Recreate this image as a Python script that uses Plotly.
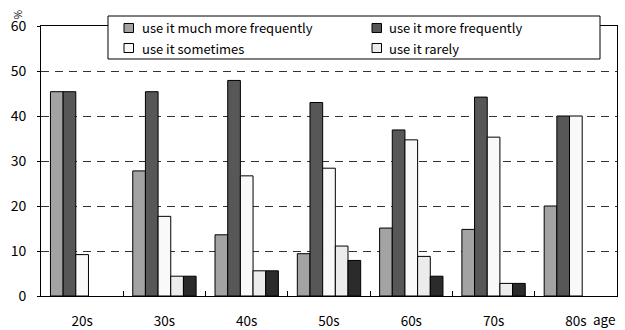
import plotly.graph_objects as go

categories = ["20s", "30s", "40s", "50s", "60s", "70s", "80s"]
much_more = [45.4, 27.8, 13.6, 9.4, 15.1, 14.8, 20.0]
more = [45.4, 45.4, 47.9, 43.0, 36.9, 44.2, 40.0]
sometimes = [9.2, 17.7, 26.7, 28.4, 34.7, 35.3, 40.0]
rarely = [0, 4.4, 5.6, 11.1, 8.8, 2.8, 0]
never = [0, 4.4, 5.6, 7.9, 4.4, 2.8, 0]
y_ticks = [0, 10, 20, 30, 40, 50, 60]

series = [
    ("use it much more frequently", much_more, "#a3a3a3", True),
    ("use it more frequently", more, "#575757", True),
    ("use it sometimes", sometimes, "#f9f9f9", True),
    ("use it rarely", rarely, "#ececec", True),
    ("do not use it", never, "#2b2b2b", False),
]

font = "Noto Sans CJK JP"
fig = go.Figure()
for name, vals, color, show in series:
    fig.add_trace(go.Bar(
        x=categories, y=vals, name=name, showlegend=False,
        marker=dict(color=color,
                    line=dict(color="black", width=[1 if v > 0 else 0 for v in vals])),
    ))

fig.update_layout(
    width=625, height=330,
    margin=dict(l=41, r=8, t=26, b=34, autoexpand=False),
    paper_bgcolor="white", plot_bgcolor="white",
    barmode="group", bargap=0.23, bargroupgap=0,
    font=dict(family=font, size=14, color="black"),
    showlegend=False,
    xaxis=dict(
        showline=True, linecolor="black", linewidth=1, mirror=True,
        ticks="inside", tickson="boundaries", ticklen=5, tickcolor="black",
        showgrid=False, ticklabelstandoff=13, automargin=False,
        tickfont=dict(size=13.5),
    ),
    yaxis=dict(
        range=[0, 60], tickvals=y_ticks,
        showline=True, linecolor="black", linewidth=1, mirror=True,
        ticks="outside", ticklen=3, tickcolor="black",
        showgrid=True, gridcolor="#333333", griddash="8px,6px", gridwidth=1,
        zeroline=False, ticklabelstandoff=8, automargin=False,
    ),
)

# Legend box (custom, two columns)
fig.add_shape(type="rect", xref="paper", yref="paper",
              x0=0.1163, x1=0.9705, y0=0.8778, y1=1.037,
              fillcolor="white", line=dict(color="black", width=1), layer="above")
legend_items = [s for s in series if s[3]]
col_sw = [0.1441, 0.5747]
col_tx = [0.1719, 0.6007]
row_y = [0.9926, 0.9185]
sw_w = 0.0165
sw_h = 0.0167
for i, (name, _, color, _) in enumerate(legend_items):
    c, r = i % 2, i // 2
    fig.add_shape(type="rect", xref="paper", yref="paper",
                  x0=col_sw[c], x1=col_sw[c] + sw_w,
                  y0=row_y[r] - sw_h, y1=row_y[r] + sw_h,
                  fillcolor=color, line=dict(color="black", width=1), layer="above")
    fig.add_annotation(text=name, xref="paper", yref="paper", x=col_tx[c], y=row_y[r],
                       xanchor="left", yanchor="middle", showarrow=False,
                       font=dict(family=font, size=13))

fig.add_annotation(text="age", xref="paper", yref="paper", x=0.955, y=-0.085,
                   xanchor="left", yanchor="middle", showarrow=False,
                   font=dict(family=font, size=13.5))
fig.add_annotation(text="%", xref="paper", yref="paper", x=-0.040, y=1.041,
                   xanchor="center", yanchor="middle", showarrow=False,
                   textangle=90, font=dict(family=font, size=10))
fig.write_html("out.html", config={"displayModeBar": False},
               post_script="document.body.style.margin='0';document.body.style.overflow='hidden';")
